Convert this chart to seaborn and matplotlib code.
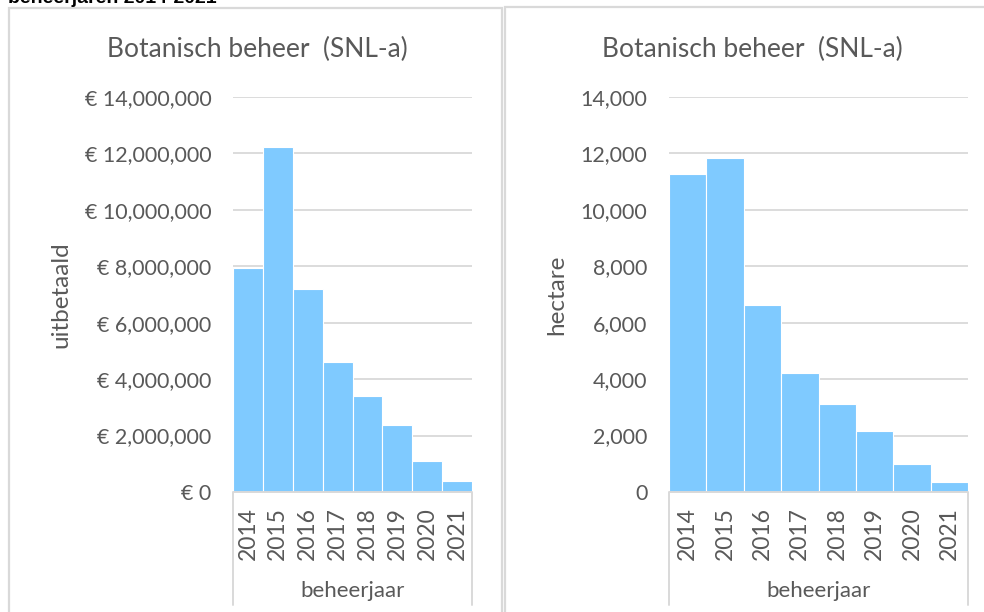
import matplotlib
matplotlib.use("Agg")
import matplotlib.pyplot as plt
import matplotlib.ticker as mticker
from matplotlib.patches import Rectangle
import seaborn as sns
import pandas as pd

# ---- data ----
years = ["2014", "2015", "2016", "2017", "2018", "2019", "2020", "2021"]
uitbetaald = [7930000, 12240000, 7190000, 4600000, 3420000, 2360000, 1100000, 380000]
hectare = [11260, 11850, 6620, 4210, 3130, 2170, 990, 360]
title_text = "Botanisch beheer  (SNL-a)"
top_text = "beheerjaren 2014-2021"

BAR = "#7FCAFF"
GRID = "#D9D9D9"
TXT = "#595959"

sns.set_theme(style="white")
plt.rcParams["font.family"] = ["Lato", "DejaVu Sans"]

W, H = 984, 612
fig = plt.figure(figsize=(W / 100, H / 100), dpi=100)

def fx(px):
    return px / W

def fy(py):
    return 1 - py / H

# panel borders
for x0, x1, y0 in [(9, 502, 8), (505, 990, 7)]:
    fig.patches.append(Rectangle((fx(x0), -0.05), fx(x1) - fx(x0), fy(y0) + 0.05,
                                 transform=fig.transFigure, fill=False,
                                 edgecolor=GRID, linewidth=1.6, zorder=0))

fig.text(fx(8), fy(3), top_text, fontsize=14, fontweight="bold", color="black",
         family=["Liberation Sans", "DejaVu Sans"], ha="left", va="baseline")

def draw(ax, vals, ylabel, fmt, ylabel_x, title_x, ylabel_size):
    df = pd.DataFrame({"jaar": years, "v": vals})
    sns.barplot(data=df, x="jaar", y="v", color=BAR, saturation=1, width=1.0,
                edgecolor="white", linewidth=0.8, ax=ax, zorder=2)
    ax.set_xlim(-0.5, len(years) - 0.5)
    ax.set_ylim(0, 14 * (1e6 if fmt == "eur" else 1e3))
    ax.yaxis.set_major_locator(mticker.MultipleLocator(2e6 if fmt == "eur" else 2e3))
    if fmt == "eur":
        ax.yaxis.set_major_formatter(mticker.FuncFormatter(
            lambda v, p: "€ 0" if v == 0 else "€ " + format(int(round(v)), ",")))
    else:
        ax.yaxis.set_major_formatter(mticker.FuncFormatter(
            lambda v, p: format(int(round(v)), ",")))
    ax.grid(axis="y", color=GRID, linewidth=1.3, zorder=0)
    ax.grid(axis="x", visible=False)
    ax.set_axisbelow(True)
    for s in ax.spines.values():
        s.set_visible(False)
    ax.tick_params(axis="y", length=0, pad=15.5, labelsize=15.5, labelcolor=TXT)
    ax.tick_params(axis="x", length=0, pad=11, labelsize=16.5, labelcolor=TXT,
                   labelrotation=90)
    ax.set_xlabel("")
    ax.set_ylabel(ylabel, fontsize=ylabel_size, color=TXT)
    ax.yaxis.set_label_coords(ylabel_x, 0.5)
    # category axis bracket
    ax.plot([0, 0, 1, 1], [-0.287, 0, 0, -0.287], transform=ax.transAxes,
            color=GRID, linewidth=1.4, clip_on=False, zorder=3)
    ax.text(0.5, -0.25, "beheerjaar", transform=ax.transAxes, ha="center",
            va="center", fontsize=16, color=TXT)
    fig.text(fx(title_x), fy(49), title_text, ha="center", va="center",
             fontsize=19, color=TXT)

axL = fig.add_axes([fx(233), fy(492), fx(472) - fx(233), (492 - 97) / H])
axR = fig.add_axes([fx(669), fy(492), fx(968) - fx(669), (492 - 97) / H])

draw(axL, uitbetaald, "uitbetaald", "eur", (71 - 233) / (472 - 233), 257, 17.5)
draw(axR, hectare, "hectare", "ha", (567 - 669) / (968 - 669), 752, 17.5)

fig.savefig("out.png", dpi=100)
